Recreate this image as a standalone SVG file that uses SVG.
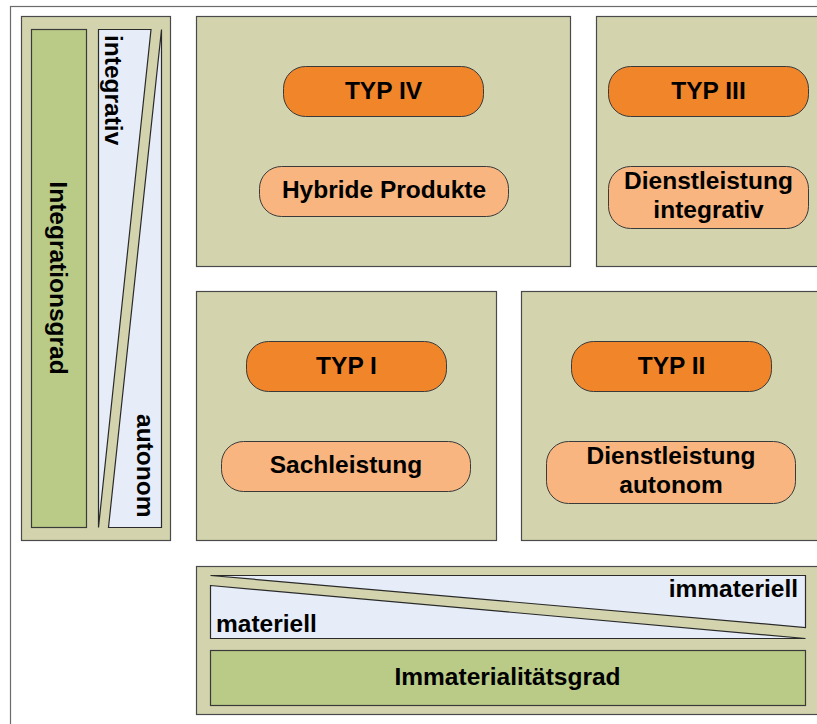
<svg xmlns="http://www.w3.org/2000/svg" width="817" height="724" viewBox="0 0 817 724">
  <style>
    .frame { fill: #ffffff; stroke: #6b6b6b; stroke-width: 1.2; }
    .panel { fill: #d3d4ae; stroke: #4a4a4a; stroke-width: 1.2; }
    .bar { fill: #b9cb87; stroke: #3a3a3a; stroke-width: 1.2; }
    .wedge { fill: #e6edf8; stroke: #2a2a2a; stroke-width: 1.2; stroke-linejoin: miter; }
    .typ { fill: #f0852a; stroke: #3a3a3a; stroke-width: 1; }
    .kind { fill: #f8b57f; stroke: #3a3a3a; stroke-width: 1; }
    text { font-family: "Liberation Sans", Arial, sans-serif; font-weight: bold; font-size: 24.5px; fill: #000; }
    .mid { text-anchor: middle; }
  </style>

  <!-- outer frame -->
  <rect class="frame" x="10.5" y="6.5" width="830" height="740"/>

  <!-- vertical axis: degree of integration -->
  <g id="axis-integration">
    <rect class="panel" x="21.5" y="16.5" width="149" height="524"/>
    <rect class="bar" x="31.5" y="29.5" width="55" height="498"/>
    <text class="mid" transform="translate(50,278) rotate(90)">Integrationsgrad</text>
    <polygon class="wedge" points="98.5,29.5 151,29.5 98.5,527.5"/>
    <polygon class="wedge" points="161.5,29.5 161.5,527.5 108.5,527.5"/>
    <text transform="translate(105,35) rotate(90)">integrativ</text>
    <text transform="translate(137,414) rotate(90)">autonom</text>
  </g>

  <!-- horizontal axis: degree of immateriality -->
  <g id="axis-immateriality">
    <rect class="panel" x="196.5" y="566.5" width="640" height="148"/>
    <polygon class="wedge" points="210.5,575.5 805.5,575.5 805.5,627.5"/>
    <polygon class="wedge" points="210.5,585.5 805.5,638.5 210.5,638.5"/>
    <text x="798" y="597" text-anchor="end">immateriell</text>
    <text x="216" y="632">materiell</text>
    <rect class="bar" x="210.5" y="650.5" width="595" height="55"/>
    <text class="mid" x="507.5" y="685">Immaterialitätsgrad</text>
  </g>

  <!-- quadrant: type IV -->
  <g id="typ-iv">
    <rect class="panel" x="196.5" y="16.5" width="374" height="250"/>
    <rect class="typ" x="283.5" y="66.5" width="200" height="50" rx="22"/>
    <text class="mid" x="383.5" y="99">TYP IV</text>
    <rect class="kind" x="259.5" y="166.5" width="249" height="50" rx="22"/>
    <text class="mid" x="384" y="198">Hybride Produkte</text>
  </g>

  <!-- quadrant: type III -->
  <g id="typ-iii">
    <rect class="panel" x="596.5" y="16.5" width="240" height="250"/>
    <rect class="typ" x="608.5" y="66.5" width="200" height="50" rx="22"/>
    <text class="mid" x="708.5" y="99">TYP III</text>
    <rect class="kind" x="608.5" y="166.5" width="200" height="62" rx="22"/>
    <text class="mid" x="708.5" y="189">Dienstleistung</text>
    <text class="mid" x="708.5" y="218">integrativ</text>
  </g>

  <!-- quadrant: type I -->
  <g id="typ-i">
    <rect class="panel" x="196.5" y="291.5" width="300" height="249"/>
    <rect class="typ" x="246.5" y="341.5" width="200" height="50" rx="22"/>
    <text class="mid" x="346.5" y="374">TYP I</text>
    <rect class="kind" x="221.5" y="441.5" width="249" height="50" rx="22"/>
    <text class="mid" x="346" y="473">Sachleistung</text>
  </g>

  <!-- quadrant: type II -->
  <g id="typ-ii">
    <rect class="panel" x="521.5" y="291.5" width="315" height="249"/>
    <rect class="typ" x="571.5" y="341.5" width="200" height="50" rx="22"/>
    <text class="mid" x="671.5" y="374">TYP II</text>
    <rect class="kind" x="546.5" y="441.5" width="249" height="62" rx="22"/>
    <text class="mid" x="671" y="464">Dienstleistung</text>
    <text class="mid" x="671" y="493">autonom</text>
  </g>

  <g id="connectors"/>
</svg>
